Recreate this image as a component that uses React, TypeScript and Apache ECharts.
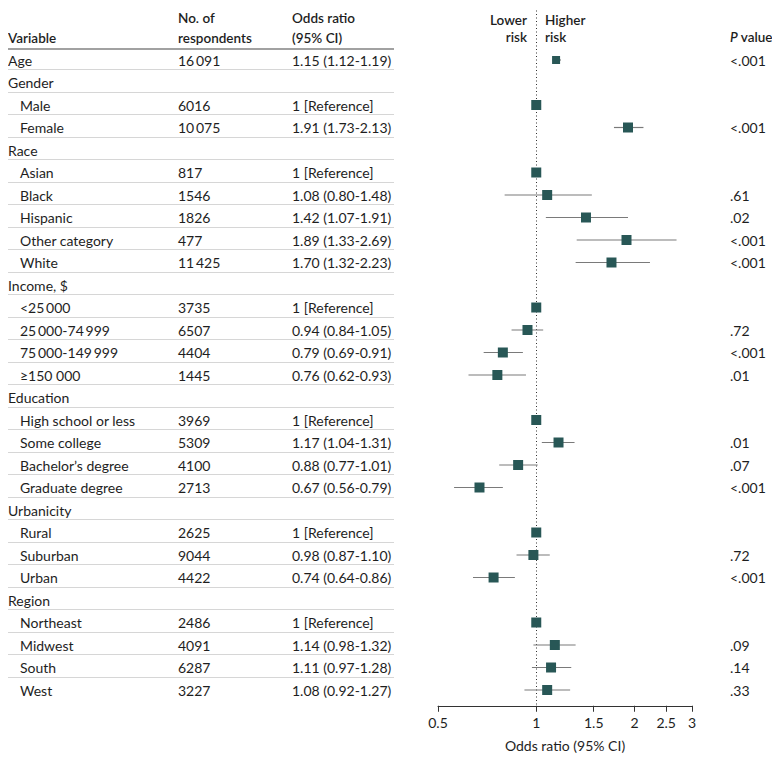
import React, { useEffect, useRef } from "react";
import * as echarts from "echarts";

const LABELS = [
  "Age", "Gender", "Male", "Female", "Race", "Asian", "Black", "Hispanic", "Other category", "White",
  "Income, $", "<25\u2009000", "25\u2009000-74\u2009999", "75\u2009000-149\u2009999", "\u2265150 000",
  "Education", "High school or less", "Some college", "Bachelor\u2019s degree", "Graduate degree",
  "Urbanicity", "Rural", "Suburban", "Urban", "Region", "Northeast", "Midwest", "South", "West",
];
const IS_GROUP = [
  false, true, false, false, true, false, false, false, false, false,
  true, false, false, false, false, true, false, false, false, false,
  true, false, false, false, true, false, false, false, false,
];
const RESPONDENTS = [
  "16\u2009091", "", "6016", "10\u2009075", "", "817", "1546", "1826", "477", "11\u2009425",
  "", "3735", "6507", "4404", "1445", "", "3969", "5309", "4100", "2713",
  "", "2625", "9044", "4422", "", "2486", "4091", "6287", "3227",
];
const OR_TEXT = [
  "1.15 (1.12-1.19)", "", "1 [Reference]", "1.91 (1.73-2.13)", "", "1 [Reference]", "1.08 (0.80-1.48)",
  "1.42 (1.07-1.91)", "1.89 (1.33-2.69)", "1.70 (1.32-2.23)", "", "1 [Reference]", "0.94 (0.84-1.05)",
  "0.79 (0.69-0.91)", "0.76 (0.62-0.93)", "", "1 [Reference]", "1.17 (1.04-1.31)", "0.88 (0.77-1.01)",
  "0.67 (0.56-0.79)", "", "1 [Reference]", "0.98 (0.87-1.10)", "0.74 (0.64-0.86)", "", "1 [Reference]",
  "1.14 (0.98-1.32)", "1.11 (0.97-1.28)", "1.08 (0.92-1.27)",
];
const OR = [
  1.15, null, 1, 1.91, null, 1, 1.08, 1.42, 1.89, 1.70, null, 1, 0.94, 0.79, 0.76, null, 1, 1.17, 0.88,
  0.67, null, 1, 0.98, 0.74, null, 1, 1.14, 1.11, 1.08,
];
const CI_LO = [
  1.12, null, null, 1.73, null, null, 0.80, 1.07, 1.33, 1.32, null, null, 0.84, 0.69, 0.62, null, null,
  1.04, 0.77, 0.56, null, null, 0.87, 0.64, null, null, 0.98, 0.97, 0.92,
];
const CI_HI = [
  1.19, null, null, 2.13, null, null, 1.48, 1.91, 2.69, 2.23, null, null, 1.05, 0.91, 0.93, null, null,
  1.31, 1.01, 0.79, null, null, 1.10, 0.86, null, null, 1.32, 1.28, 1.27,
];
const P_VALUES = [
  "<.001", "", "", "<.001", "", "", ".61", ".02", "<.001", "<.001", "", "", ".72", "<.001", ".01", "",
  "", ".01", ".07", "<.001", "", "", ".72", "<.001", "", "", ".09", ".14", ".33",
];
const TICKS = [0.5, 1, 1.5, 2, 2.5, 3];

const FONT = "Lato, 'Open Sans', sans-serif";
const FS = 14;
const HFS = 13.5;
const TXT = "#1e1e1e";
const MARK = "#285756";

export default function App() {
  const ref = useRef<HTMLDivElement>(null);
  useEffect(() => {
    if (!ref.current) return;
    const chart = echarts.init(ref.current, null, { renderer: "svg" });
    const lg = (v: number) => Math.log10(v);
    const yMin = -2.2;
    const yMax = 28.7;

    const tableData = LABELS.map((_, i) => [0, i]);
    const ciData: number[][] = [];
    const sqData: number[][] = [];
    OR.forEach((v, i) => {
      if (v == null) return;
      sqData.push([lg(v), i]);
      const lo = CI_LO[i];
      const hi = CI_HI[i];
      if (lo != null && hi != null) ciData.push([lg(lo), lg(hi), i]);
    });

    const headerText = (text: string, x: number, y: number, align: string = "left", rich?: any) => ({
      type: "text",
      x,
      y,
      style: {
        text,
        fill: TXT,
        fontFamily: FONT,
        fontSize: HFS,
        fontWeight: 600,
        align,
        verticalAlign: "middle",
        rich,
      },
    });

    chart.setOption({
      animation: false,
      grid: [
        { left: 438, width: 254, top: 10.5, height: 695.25 },
        { left: 0, width: 780, top: 10.5, height: 695.25 },
      ],
      xAxis: [
        {
          type: "value",
          gridIndex: 0,
          min: lg(0.5),
          max: lg(3),
          splitLine: { show: false },
          axisLine: { show: true, onZero: false, lineStyle: { color: "#333", width: 1 } },
          axisTick: { show: true, length: 6, lineStyle: { color: "#333" }, customValues: TICKS.map(lg) },
          axisLabel: {
            customValues: TICKS.map(lg),
            formatter: (v: number) => String(+Math.pow(10, v).toFixed(2)),
            color: TXT,
            fontFamily: FONT,
            fontSize: FS,
            margin: 10,
          },
          name: "Odds ratio (95% CI)",
          nameLocation: "middle",
          nameGap: 33,
          nameTextStyle: { color: TXT, fontFamily: FONT, fontSize: FS },
        },
        { type: "value", gridIndex: 1, min: 0, max: 780, show: false },
      ],
      yAxis: [
        { type: "value", gridIndex: 0, min: yMin, max: yMax, inverse: true, show: false },
        { type: "value", gridIndex: 1, min: yMin, max: yMax, inverse: true, show: false },
      ],
      graphic: [
        headerText("Variable", 8, 38),
        headerText("No. of", 178, 18),
        headerText("respondents", 178, 38),
        headerText("Odds ratio", 292, 18),
        headerText("(95% CI)", 292, 38),
        headerText("Lower", 527, 20, "right"),
        headerText("risk", 527, 37, "right"),
        headerText("Higher", 545, 20),
        headerText("risk", 545, 37),
        headerText("{i|P} value", 730, 37, "left", {
          i: { fontStyle: "italic", fontWeight: 600, fontFamily: FONT, fontSize: HFS, fill: TXT },
        }),
        {
          type: "line",
          shape: { x1: 8, y1: 49, x2: 394, y2: 49 },
          style: { stroke: "#444", lineWidth: 1.2 },
        },
      ],
      series: [
        {
          type: "custom",
          xAxisIndex: 1,
          yAxisIndex: 1,
          silent: true,
          data: tableData,
          renderItem: (params: any, api: any) => {
            const i = params.dataIndex;
            const y = api.coord([0, i])[1];
            const rowH = api.size([0, 1])[1];
            const txt = (text: string, x: number) => ({
              type: "text",
              x,
              y,
              style: {
                text,
                fill: TXT,
                fontFamily: FONT,
                fontSize: FS,
                verticalAlign: "middle",
                align: "left",
              },
            });
            const children: any[] = [
              txt(LABELS[i], IS_GROUP[i] || i === 0 ? 8 : 20),
              txt(RESPONDENTS[i], 178),
              txt(OR_TEXT[i], 292),
              txt(P_VALUES[i], 730),
            ];
            if (i < LABELS.length - 1) {
              const ly = Math.round(y + rowH * 0.42) + 0.5;
              children.push({
                type: "line",
                shape: { x1: 8, y1: ly, x2: 394, y2: ly },
                style: { stroke: "#d6d6d6", lineWidth: 1 },
              });
            }
            return { type: "group", children };
          },
        },
        {
          type: "custom",
          xAxisIndex: 0,
          yAxisIndex: 0,
          silent: true,
          data: ciData,
          encode: { x: [0, 1], y: 2 },
          renderItem: (params: any, api: any) => {
            const a = api.coord([api.value(0), api.value(2)]);
            const b = api.coord([api.value(1), api.value(2)]);
            return {
              type: "line",
              shape: { x1: a[0], y1: a[1], x2: b[0], y2: b[1] },
              style: { stroke: "#7a7a7a", lineWidth: 1.2 },
            };
          },
        },
        {
          type: "scatter",
          xAxisIndex: 0,
          yAxisIndex: 0,
          silent: true,
          symbol: "rect",
          symbolSize: (_v: any, p: any) => (p.dataIndex === 0 ? 8 : 10),
          itemStyle: { color: MARK, opacity: 1 },
          data: sqData,
          z: 5,
          markLine: {
            silent: true,
            symbol: "none",
            label: { show: false },
            lineStyle: { type: [1, 2.5], color: "#333", width: 1 },
            data: [{ xAxis: 0 }],
            z: 1,
          },
        },
      ],
    });
    return () => chart.dispose();
  }, []);
  return <div ref={ref} style={{ width: 780, height: 767, marginLeft: -8, marginTop: -8 }} />;
}
